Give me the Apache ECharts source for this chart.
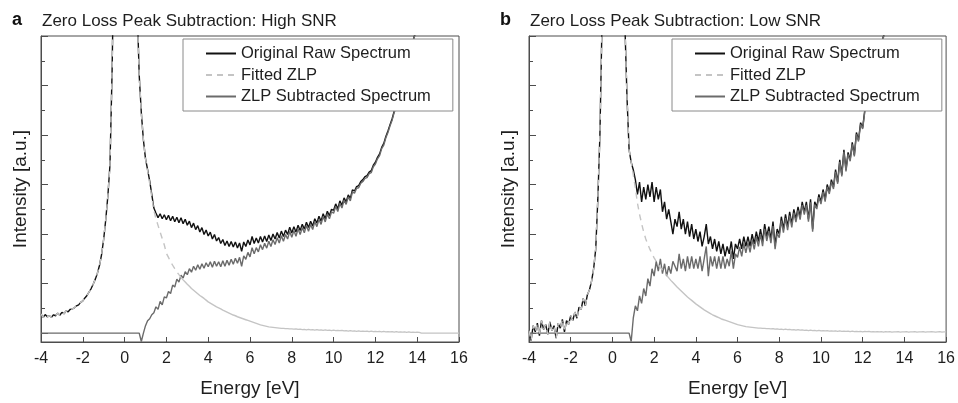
<!DOCTYPE html>
<html>
<head>
<meta charset="utf-8">
<script src="https://cdn.jsdelivr.net/npm/echarts@6/dist/echarts.min.js"></script>
<style>
  html, body { margin: 0; padding: 0; background: #fff; }
  #chart { width: 958px; height: 403px; }
</style>
</head>
<body>
<div id="chart"></div>
<script>
// energy grid: first sample and step (eV)
const E0 = -4
const dE = 0.1
const xTicks = { min: -4, max: 16, interval: 2 }
const names = ['Original Raw Spectrum', 'Fitted ZLP', 'ZLP Subtracted Spectrum']
const titles = ['Zero Loss Peak Subtraction: High SNR', 'Zero Loss Peak Subtraction: Low SNR']
const letters = ['a', 'b']

// panel a, raw spectrum from -4.0 eV
const rawA = [
  0.78, 0.62, 0.75, 0.66, 0.70, 0.64, 0.74, 0.70, 0.80, 0.72,
  0.84, 0.78, 0.90, 0.86, 0.96, 0.98, 1.02, 1.10, 1.14, 1.24,
  1.30, 1.42, 1.52, 1.66, 1.80, 1.98, 2.18, 2.42, 2.74, 3.18,
  3.80, 4.60, 5.55, 6.80, 10.5, 16, 24, 35, 48, 60,
  66, 62, 50, 36, 25, 18, 13.2, 10.4, 8.9, 7.8,
  7.05, 6.6, 6.15, 5.6, 5.05, 4.85, 4.66, 4.82, 4.62, 4.78,
  4.58, 4.76, 4.54, 4.72, 4.50, 4.68, 4.46, 4.66, 4.42, 4.60,
  4.36, 4.52, 4.26, 4.44, 4.18, 4.34, 4.08, 4.26, 3.98, 4.16,
  3.92, 4.08, 3.80, 3.98, 3.72, 3.86, 3.62, 3.78, 3.54, 3.72,
  3.50, 3.70, 3.48, 3.68, 3.44, 3.64, 3.30, 3.68, 3.50, 3.76,
  3.56, 3.90, 3.62, 3.84, 3.64, 3.90, 3.68, 3.92, 3.70, 3.96,
  3.74, 4.00, 3.80, 4.06, 3.84, 4.12, 3.90, 4.16, 3.98, 4.28,
  4.04, 4.30, 4.08, 4.36, 4.14, 4.40, 4.20, 4.48, 4.26, 4.52,
  4.32, 4.62, 4.44, 4.72, 4.52, 4.82, 4.62, 4.92, 4.74, 5.00,
  4.96, 5.22, 5.02, 5.34, 5.16, 5.46, 5.30, 5.58, 5.44, 5.78,
  5.74, 5.92, 5.96, 6.12, 6.20, 6.32, 6.36, 6.50, 6.56, 6.78,
  6.90, 7.10, 7.24, 7.50, 7.66, 7.94, 8.16, 8.42, 8.66, 8.96,
  9.14, 9.44, 9.80, 10.14, 10.50, 10.86, 11.20, 11.50, 11.80, 12.10,
  12.40
]
// panel a, fitted ZLP tail from 0.9 eV (below that the fit follows the raw data)
const zlpTailA = [
  7.8, 7.05, 6.55, 6.05, 5.5, 4.95, 4.62, 4.35, 4.08, 3.82,
  3.56, 3.22, 3.06, 2.88, 2.74, 2.60, 2.47, 2.36, 2.25, 2.15,
  2.06, 1.97, 1.89, 1.80, 1.73, 1.66, 1.59, 1.52, 1.46, 1.40,
  1.33, 1.26, 1.21, 1.16, 1.11, 1.06, 1.02, 0.98, 0.93, 0.89,
  0.85, 0.81, 0.77, 0.73, 0.70, 0.66, 0.63, 0.60, 0.57, 0.54,
  0.51, 0.48, 0.45, 0.42, 0.39, 0.36, 0.33, 0.31, 0.29, 0.27,
  0.25, 0.24, 0.23, 0.22, 0.21, 0.20, 0.19, 0.19, 0.18, 0.18,
  0.17, 0.17, 0.16, 0.17, 0.15, 0.16, 0.14, 0.15, 0.13, 0.15,
  0.13, 0.14, 0.12, 0.14, 0.12, 0.13, 0.11, 0.13, 0.11, 0.12,
  0.10, 0.12, 0.10, 0.11, 0.10, 0.11, 0.09, 0.10, 0.08, 0.10,
  0.08, 0.09, 0.07, 0.09, 0.07, 0.08, 0.07, 0.08, 0.06, 0.08,
  0.06, 0.07, 0.06, 0.07, 0.05, 0.07, 0.05, 0.06, 0.05, 0.06,
  0.04, 0.06, 0.04, 0.05, 0.04, 0.05, 0.03, 0.05, 0.03, 0.04,
  0.03, 0.04, 0.03, 0, 0, 0, 0, 0, 0, 0,
  0, 0, 0, 0, 0, 0, 0, 0, 0, 0,
  0, 0
]
// panel a, ZLP subtracted spectrum from -4.0 eV
const subA = [
  0, 0, 0, 0, 0, 0, 0, 0, 0, 0,
  0, 0, 0, 0, 0, 0, 0, 0, 0, 0,
  0, 0, 0, 0, 0, 0, 0, 0, 0, 0,
  0, 0, 0, 0, 0, 0, 0, 0, 0, 0,
  0, 0, 0, 0, 0, 0, 0, 0, -0.34, 0.00,
  0.30, 0.50, 0.58, 0.74, 0.82, 1.06, 0.96, 1.28, 1.14, 1.46,
  1.42, 1.68, 1.60, 1.94, 1.86, 2.18, 2.06, 2.34, 2.22, 2.48,
  2.36, 2.60, 2.46, 2.70, 2.54, 2.76, 2.58, 2.80, 2.62, 2.84,
  2.68, 2.88, 2.66, 2.90, 2.70, 2.88, 2.68, 2.92, 2.70, 2.94,
  2.74, 2.98, 2.78, 3.02, 2.82, 3.06, 2.70, 3.12, 2.98, 3.26,
  3.08, 3.45, 3.20, 3.45, 3.28, 3.57, 3.37, 3.63, 3.43, 3.71,
  3.50, 3.77, 3.58, 3.85, 3.64, 3.93, 3.71, 3.98, 3.80, 4.11,
  3.87, 4.14, 3.91, 4.21, 3.98, 4.26, 4.05, 4.35, 4.11, 4.39,
  4.18, 4.50, 4.30, 4.60, 4.39, 4.71, 4.49, 4.81, 4.62, 4.90,
  4.84, 5.12, 4.91, 5.24, 5.05, 5.37, 5.20, 5.50, 5.34, 5.70,
  5.65, 5.85, 5.87, 6.05, 6.12, 6.25, 6.28, 6.44, 6.48, 6.72,
  6.83, 7.04, 7.17, 7.45, 7.59, 7.89, 8.10, 8.37, 8.60, 8.92,
  9.08, 9.40, 9.75, 10.10, 10.45, 10.83, 11.15, 11.47, 11.76, 12.07,
  12.36
]

// panel b, raw spectrum from -4.0 eV
const rawB = [
  0.10, -0.30, 0.30, 0.05, 0.40, -0.10, 0.50, 0.15, 0.35, -0.05,
  0.45, 0.10, 0.30, -0.20, 0.40, 0.20, 0.55, 0.05, 0.50, 0.35,
  0.70, 0.50, 0.85, 0.60, 1.05, 0.95, 1.40, 1.10, 1.55, 1.75,
  2.10, 2.60, 3.40, 5.40, 8.00, 12.5, 20, 32, 45, 58,
  64, 60, 48, 34, 22, 15.5, 12.4, 9.5, 7.4, 6.9,
  6.6, 6.2, 5.6, 6.1, 5.3, 5.9, 5.4, 6.0, 5.5, 6.1,
  5.3, 5.9, 5.4, 5.8, 4.9, 5.3, 4.6, 5.0, 4.5, 4.0,
  4.6, 4.3, 4.9, 4.2, 4.6, 4.0, 4.5, 3.9, 4.4, 3.8,
  4.2, 3.7, 4.1, 3.5, 3.9, 4.4, 3.6, 3.9, 3.4, 3.8,
  3.3, 3.7, 3.2, 3.6, 3.1, 3.5, 3.2, 3.7, 3.0, 3.6,
  3.4, 3.8, 3.4, 3.9, 3.5, 3.9, 3.5, 4.0, 3.6, 4.1,
  3.7, 4.2, 3.7, 4.4, 3.9, 4.3, 3.8, 4.5, 3.55, 4.2,
  4.0, 4.7, 4.2, 4.8, 4.3, 4.9, 4.4, 5.0, 4.6, 5.1,
  4.7, 5.3, 4.9, 5.3, 4.6, 5.4, 4.2, 5.3, 5.1, 5.6,
  5.3, 5.8, 5.4, 6.0, 5.7, 6.2, 5.9, 6.6, 6.1, 7.0,
  6.4, 7.4, 6.6, 7.3, 7.0, 7.7, 7.2, 8.1, 7.8, 8.5,
  8.3, 9.0, 9.2, 9.6, 9.9, 10.3, 10.6, 11.0, 11.3, 11.7,
  12.0, 12.4
]
// panel b, fitted ZLP tail from 1.0 eV
const zlpTailB = [
  6.4, 5.85, 5.25, 4.80, 4.42, 4.08, 3.80, 3.58, 3.38, 3.20,
  3.04, 2.90, 2.77, 2.65, 2.54, 2.43, 2.33, 2.23, 2.13, 2.04,
  1.95, 1.86, 1.78, 1.70, 1.62, 1.54, 1.46, 1.39, 1.32, 1.25,
  1.18, 1.12, 1.06, 1.00, 0.94, 0.89, 0.84, 0.79, 0.74, 0.70,
  0.66, 0.62, 0.58, 0.55, 0.52, 0.49, 0.46, 0.43, 0.40, 0.37,
  0.34, 0.32, 0.30, 0.28, 0.26, 0.25, 0.24, 0.23, 0.22, 0.21,
  0.20, 0.20, 0.19, 0.19, 0.18, 0.18, 0.17, 0.18, 0.16, 0.17,
  0.15, 0.16, 0.14, 0.16, 0.14, 0.15, 0.13, 0.14, 0.12, 0.14,
  0.12, 0.13, 0.11, 0.12, 0.10, 0.12, 0.10, 0.11, 0.09, 0.11,
  0.09, 0.10, 0.09, 0.10, 0.08, 0.09, 0.08, 0.09, 0.07, 0.09,
  0.07, 0.08, 0.07, 0.08, 0.06, 0.08, 0.06, 0.07, 0.06, 0.07,
  0.05, 0.07, 0.06, 0.07, 0.05, 0.06, 0.05, 0.06, 0.05, 0.06,
  0.04, 0.06, 0.05, 0.06, 0.04, 0.05, 0.05, 0.06, 0.04, 0.05,
  0.05, 0.06, 0.04, 0.05, 0.05, 0.06, 0.04, 0.05, 0.05, 0.06,
  0.04, 0.05, 0.05, 0.06, 0.05, 0.04, 0.05, 0.06, 0.04, 0.05,
  0.05
]
// panel b, ZLP subtracted spectrum from -4.0 eV
const subB = [
  0, 0, 0, 0, 0, 0, 0, 0, 0, 0,
  0, 0, 0, 0, 0, 0, 0, 0, 0, 0,
  0, 0, 0, 0, 0, 0, 0, 0, 0, 0,
  0, 0, 0, 0, 0, 0, 0, 0, 0, 0,
  0, 0, 0, 0, 0, 0, 0, 0, 0, -0.34,
  0.60, 1.10, 0.90, 1.50, 1.20, 1.80, 1.50, 2.20, 1.90, 2.60,
  2.30, 2.90, 2.50, 3.00, 2.40, 2.80, 2.30, 2.70, 2.40, 2.90,
  2.70, 2.50, 3.20, 2.60, 3.00, 2.50, 3.10, 2.60, 3.10, 2.60,
  3.00, 2.60, 3.10, 2.50, 3.00, 3.50, 2.30, 3.10, 2.70, 3.10,
  2.60, 3.10, 2.60, 3.10, 2.60, 3.00, 2.70, 3.30, 2.60, 3.20,
  3.06, 3.48, 3.10, 3.62, 3.24, 3.65, 3.26, 3.77, 3.38, 3.89,
  3.50, 4.00, 3.51, 4.21, 3.72, 4.12, 3.63, 4.32, 3.39, 4.03,
  3.85, 4.54, 4.06, 4.64, 4.16, 4.75, 4.27, 4.86, 4.48, 4.96,
  4.58, 5.17, 4.79, 5.18, 4.50, 5.28, 4.10, 5.19, 5.01, 5.49,
  5.21, 5.70, 5.31, 5.90, 5.62, 6.11, 5.82, 6.51, 6.03, 6.91,
  6.33, 7.32, 6.53, 7.22, 6.94, 7.62, 7.14, 8.03, 7.74, 8.43,
  8.25, 8.93, 9.14, 9.53, 9.85, 10.24, 10.55, 10.94, 11.25, 11.64,
  11.96, 12.34
]

const font = 'Liberation Sans, Arial, sans-serif'
const axisColor = '#4d4d4d'
const textColor = '#1e1e1e'

// attach energies to a list of samples starting at energy e0
function toPairs(vals, e0) {
  return vals.map((v, i) => [+(e0 + i * dE).toFixed(2), v])
}

const panels = [
  { raw: rawA, tail: zlpTailA, tailStart: 0.9, sub: subA, left: 41, legendLeft: 183 },
  { raw: rawB, tail: zlpTailB, tailStart: 1.0, sub: subB, left: 529, legendLeft: 672 }
]

const option = {
  animation: false,
  textStyle: { fontFamily: font },
  title: [],
  legend: [],
  grid: [],
  xAxis: [],
  yAxis: [],
  series: []
}

panels.forEach((p, k) => {
  option.grid.push({
    left: p.left, top: 36, width: 418, height: 308,
    show: true, borderColor: axisColor, borderWidth: 1,
    backgroundColor: 'transparent', containLabel: false
  })
  option.title.push({
    text: letters[k], left: p.left - 29, top: 11.5, padding: 0,
    textStyle: { fontSize: 18, fontWeight: 'bold', color: '#111', fontFamily: font }
  })
  option.title.push({
    text: titles[k], left: p.left + 1, top: 12.5, padding: 0,
    textStyle: { fontSize: 17, fontWeight: 'normal', color: textColor, fontFamily: font }
  })
  option.legend.push({
    data: names, orient: 'vertical', left: p.legendLeft, top: 39,
    padding: [6, 22, 6, 22], itemGap: 4.5, itemWidth: 30, itemHeight: 14,
    backgroundColor: '#fff', borderColor: '#8a8a8a', borderWidth: 1,
    selectedMode: false,
    itemStyle: { opacity: 0, borderWidth: 0 },
    textStyle: { fontSize: 16.5, color: textColor, fontFamily: font }
  })
  option.xAxis.push({
    gridIndex: k, type: 'value', min: xTicks.min, max: xTicks.max, interval: xTicks.interval,
    axisLine: { show: true, onZero: false, lineStyle: { color: axisColor, width: 1 } },
    axisTick: { show: true, inside: true, length: 5, lineStyle: { color: axisColor } },
    axisLabel: { fontSize: 16, color: textColor, margin: 9, fontFamily: font },
    splitLine: { show: false },
    name: 'Energy [eV]', nameLocation: 'middle', nameGap: 37,
    nameTextStyle: { fontSize: 19, color: textColor, fontFamily: font }
  })
  option.yAxis.push({
    gridIndex: k, type: 'value', min: -0.36, max: 12,
    splitNumber: 6, minInterval: 2, maxInterval: 2,
    axisLine: { show: true, onZero: false, lineStyle: { color: axisColor, width: 1 } },
    axisTick: { show: true, inside: true, length: 7, lineStyle: { color: axisColor } },
    minorTick: { show: true, splitNumber: 2, length: 4, lineStyle: { color: axisColor } },
    axisLabel: { show: false },
    splitLine: { show: false },
    minorSplitLine: { show: false },
    name: 'Intensity [a.u.]', nameLocation: 'middle', nameGap: 11,
    nameTextStyle: { fontSize: 19, color: textColor, fontFamily: font }
  })

  // fitted ZLP follows the raw data below the tail start
  const nHead = Math.round((p.tailStart - E0) / dE)
  const fitted = toPairs(p.raw.slice(0, nHead), E0).concat(toPairs(p.tail, p.tailStart))
  const fitHead = fitted.filter(d => d[0] <= 2.6)
  const fitTail = fitted.filter(d => d[0] >= 2.6)

  const common = {
    type: 'line', xAxisIndex: k, yAxisIndex: k,
    symbol: 'none', showSymbol: false, silent: true, clip: true
  }
  option.series.push(Object.assign({}, common, {
    name: names[0], data: toPairs(p.raw, E0), z: 2, color: '#111',
    lineStyle: { color: '#111', width: 1.4 }
  }))
  option.series.push(Object.assign({}, common, {
    name: names[1], data: fitHead, z: 4, color: '#c4c4c4',
    lineStyle: { color: '#c4c4c4', width: 1.4, type: [6, 5] }
  }))
  option.series.push(Object.assign({}, common, {
    name: names[2], data: toPairs(p.sub, E0), z: 3, color: '#6b6b6b',
    lineStyle: { color: '#6b6b6b', width: 1.4 }
  }))
  option.series.push(Object.assign({}, common, {
    name: names[1], data: fitTail, z: 4, color: '#c4c4c4',
    lineStyle: { color: '#c4c4c4', width: 1.4 }
  }))
})

const chart = echarts.init(document.getElementById('chart'), null, { renderer: 'canvas' })
chart.setOption(option)
</script>
</body>
</html>
